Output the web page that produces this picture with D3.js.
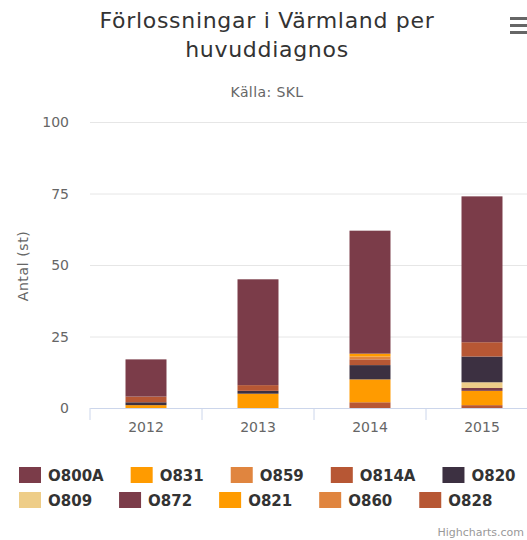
<!DOCTYPE html>
<html>
<head>
<meta charset="utf-8">
<script src="https://cdn.jsdelivr.net/npm/d3@7"></script>
<style>
  body { margin: 0; background: #fff; }
  svg { display: block; font-family: "DejaVu Sans", Verdana, sans-serif; }
</style>
</head>
<body>
<svg id="chart" width="527" height="540"></svg>
<script>
const years = ["2012", "2013", "2014", "2015"];
const seriesNames = ["O800A", "O831", "O859", "O814A", "O820", "O809", "O872", "O821", "O860", "O828"];
const seriesColors = ["#7b3c49", "#ff9b00", "#e0853f", "#b75734", "#3c3041", "#eecd88", "#7b3c49", "#ff9b00", "#e0853f", "#b75734"];

// one array per series, values for 2012..2015
const O800A = [13, 37, 43, 51];
const O831 = [0, 0, 1, 0];
const O859 = [0, 0, 1, 0];
const O814A = [2, 2, 2, 5];
const O820 = [1, 1, 5, 9];
const O809 = [0, 0, 0, 2];
const O872 = [0, 0, 0, 1];
const O821 = [1, 5, 8, 5];
const O860 = [0, 0, 0, 0];
const O828 = [0, 0, 2, 1];
const seriesValues = [O800A, O831, O859, O814A, O820, O809, O872, O821, O860, O828];

const yTicks = [0, 25, 50, 75, 100];

const svg = d3.select("#chart");
const margin = { top: 122, left: 90, bottom: 408, right: 538 };

// table for the stack: first series ends up on top, like Highcharts
const table = years.map((yr, i) => {
  const row = { year: yr };
  seriesNames.forEach((s, j) => { row[s] = seriesValues[j][i]; });
  return row;
});
const stackKeys = seriesNames.map((s, j) => j).reverse();
const stacked = d3.stack()
  .keys(stackKeys)
  .value((d, k) => d[seriesNames[k]])(table);

const x = d3.scaleBand()
  .domain(years)
  .range([margin.left, margin.right])
  .paddingInner(0.634)
  .paddingOuter(0.317);

const xStep = d3.scaleBand().domain(years).range([margin.left, margin.right]);

const y = d3.scaleLinear()
  .domain([0, 100])
  .range([margin.bottom, margin.top]);

// title
svg.append("text")
  .attr("x", 267).attr("y", 28)
  .attr("text-anchor", "middle")
  .attr("font-size", 22)
  .attr("letter-spacing", 0.7)
  .attr("fill", "#333")
  .text("Förlossningar i Värmland per");
svg.append("text")
  .attr("x", 267).attr("y", 57)
  .attr("text-anchor", "middle")
  .attr("font-size", 22)
  .attr("letter-spacing", 0.7)
  .attr("fill", "#333")
  .text("huvuddiagnos");
svg.append("text")
  .attr("x", 267).attr("y", 97)
  .attr("text-anchor", "middle")
  .attr("font-size", 14)
  .attr("letter-spacing", 0.4)
  .attr("fill", "#666")
  .text("Källa: SKL");

// menu icon
[17, 24, 31].forEach(yy => {
  svg.append("rect")
    .attr("x", 510).attr("y", yy)
    .attr("width", 20).attr("height", 3)
    .attr("fill", "#666");
});

// gridlines + y labels
const yAxis = svg.append("g")
  .attr("transform", `translate(${margin.left},0)`)
  .call(d3.axisLeft(y).tickValues(yTicks).tickSize(-(margin.right - margin.left)).tickPadding(21));
yAxis.select(".domain").remove();
yAxis.selectAll(".tick line").attr("stroke", "#e6e6e6");
yAxis.selectAll(".tick text")
  .attr("font-size", 14)
  .attr("font-family", "DejaVu Sans, sans-serif")
  .attr("fill", "#666")
  .attr("dy", "0.35em");

svg.append("text")
  .attr("transform", "translate(28,266) rotate(-90)")
  .attr("text-anchor", "middle")
  .attr("font-size", 14)
  .attr("letter-spacing", 0.6)
  .attr("fill", "#666")
  .text("Antal (st)");

// bars
svg.append("g")
  .selectAll("g")
  .data(stacked)
  .join("g")
  .attr("fill", d => seriesColors[d.key])
  .selectAll("rect")
  .data(d => d)
  .join("rect")
  .attr("x", d => x(d.data.year))
  .attr("width", x.bandwidth())
  .attr("y", d => y(d[1]))
  .attr("height", d => y(d[0]) - y(d[1]));

// x axis
const xAxis = svg.append("g")
  .attr("transform", `translate(0,${margin.bottom})`)
  .call(d3.axisBottom(x).tickSize(0).tickPadding(14));
xAxis.select(".domain").attr("stroke", "#ccd6eb");
xAxis.selectAll(".tick text")
  .attr("font-size", 14)
  .attr("font-family", "DejaVu Sans, sans-serif")
  .attr("fill", "#666");
const xEdges = years.map(yr => xStep(yr)).concat([margin.right]);
svg.append("g")
  .selectAll("line")
  .data(xEdges)
  .join("line")
  .attr("x1", d => d).attr("x2", d => d)
  .attr("y1", margin.bottom).attr("y2", margin.bottom + 12)
  .attr("stroke", "#ccd6eb");

// legend
const legend = svg.append("g").attr("font-size", 15).attr("font-weight", "bold");
let lx = 19;
seriesNames.forEach((name, i) => {
  if (i === 5) lx = 19;
  const ly = i < 5 ? 475 : 500;
  legend.append("rect")
    .attr("x", lx).attr("y", ly - 8)
    .attr("width", 22).attr("height", 16)
    .attr("fill", seriesColors[i]);
  const t = legend.append("text")
    .attr("x", lx + 29).attr("y", ly + 5.5)
    .attr("fill", "#333")
    .text(name);
  lx += 29 + t.node().getComputedTextLength() + 27;
});

svg.append("text")
  .attr("x", 524).attr("y", 536)
  .attr("text-anchor", "end")
  .attr("font-size", 11)
  .attr("fill", "#999")
  .text("Highcharts.com");
</script>
</body>
</html>
